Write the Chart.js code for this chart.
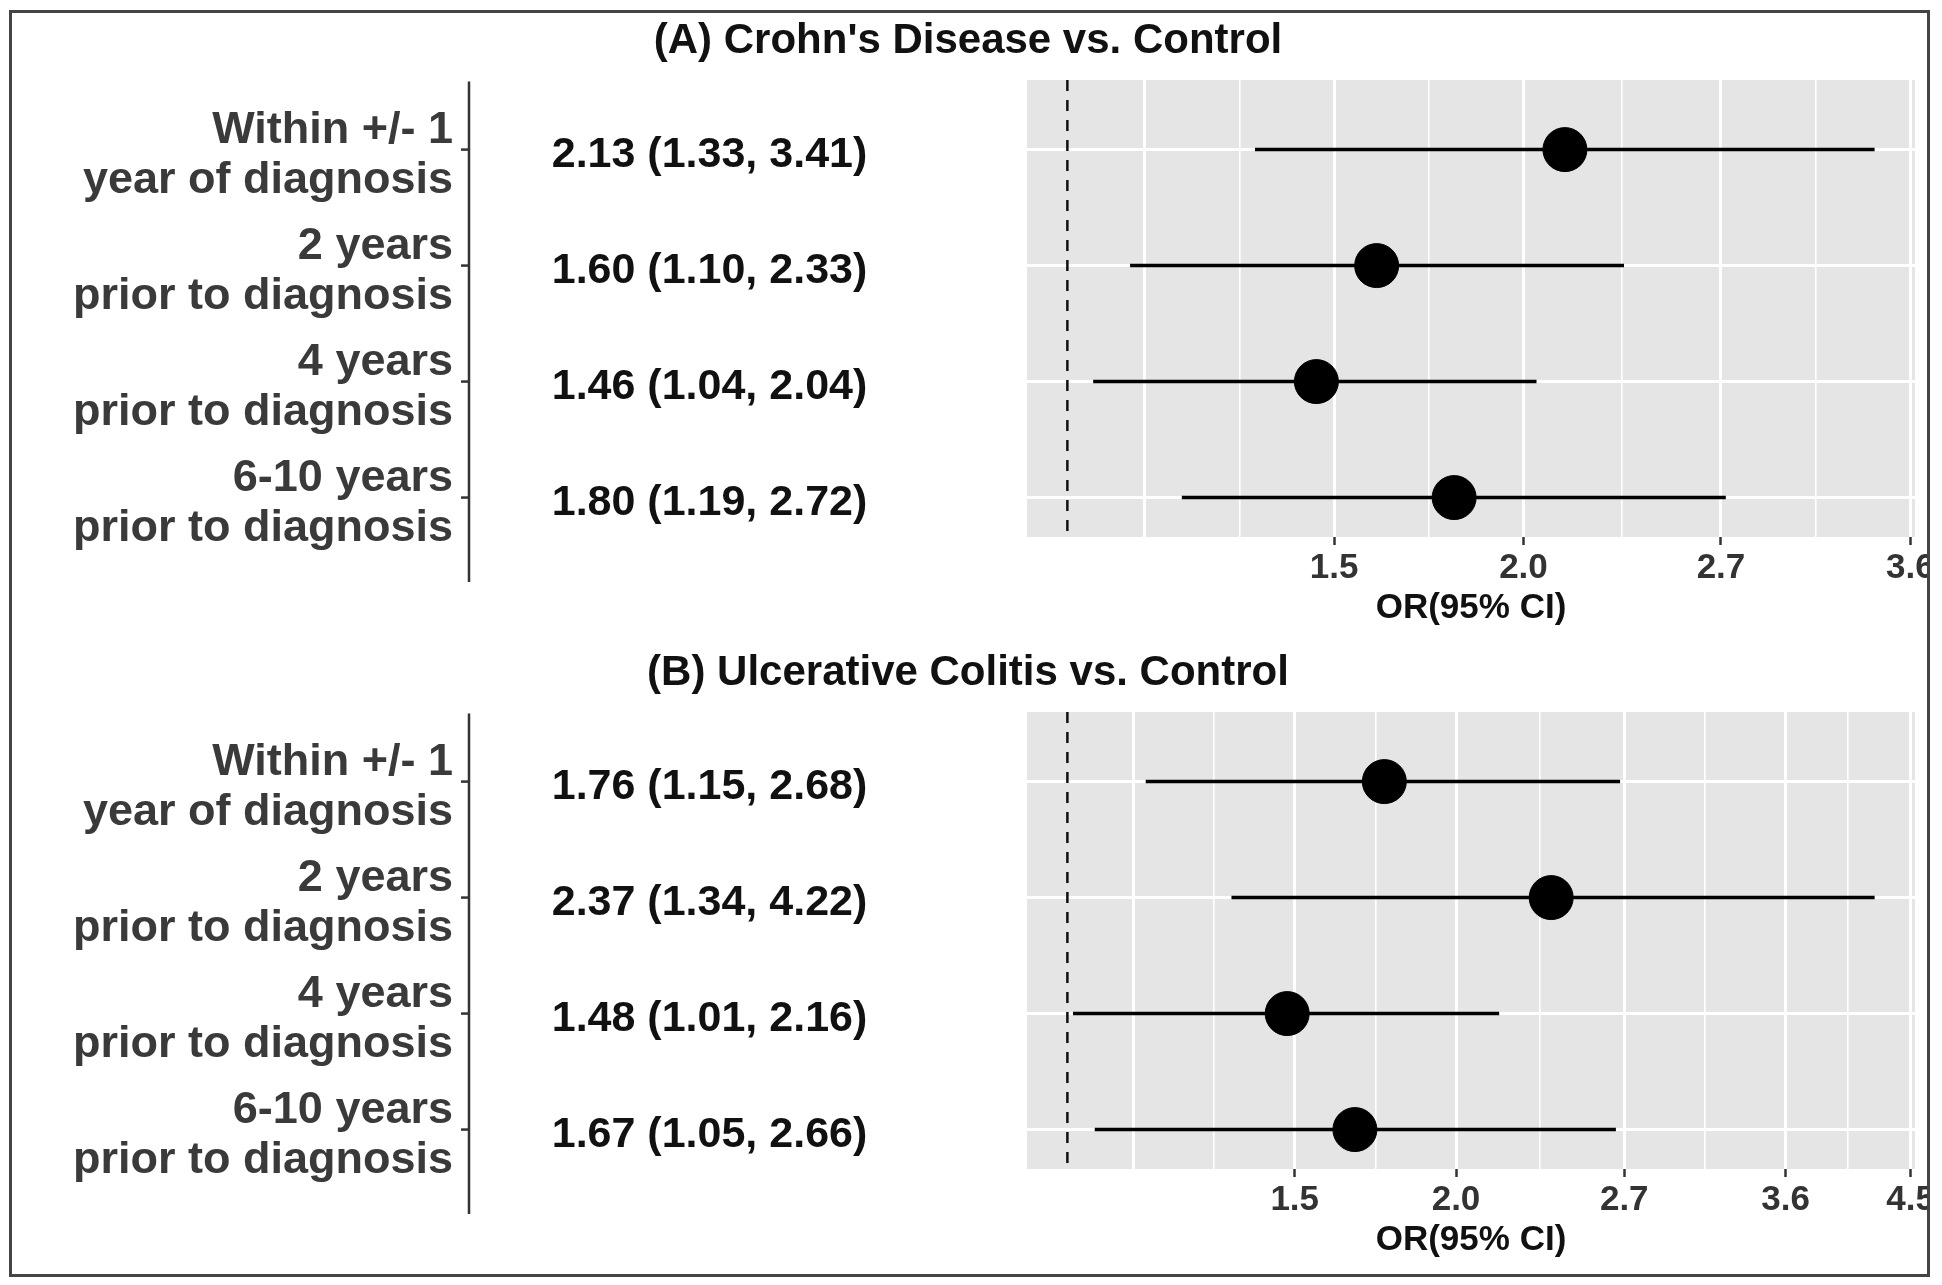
<!DOCTYPE html>
<html lang="en">
<head>
<meta charset="utf-8">
<title>OR (95% CI) vs. Control</title>
<script src="https://cdn.jsdelivr.net/npm/chart.js@4.4.1/dist/chart.umd.min.js"></script>
<style>
    html, body { margin: 0; padding: 0; background: #fff; }
    #page { position: relative; width: 1942px; height: 1285px; overflow: hidden; }
    #clip { position: absolute; left: 0; top: 0; width: 1928px; height: 1276px; overflow: hidden; }
    .panel { position: absolute; left: 10px; width: 1950px; height: 632px; }
    #panelA { top: 10px; }
    #panelB { top: 642px; }
    #frame { position: absolute; left: 9px; top: 10px; width: 1921px; height: 1267px; box-sizing: border-box; border: 3px solid #444; pointer-events: none; }
</style>
</head>
<body>
<div id="page">
    <div id="clip">
        <canvas id="panelA" class="panel" width="1950" height="632"></canvas>
        <canvas id="panelB" class="panel" width="1950" height="632"></canvas>
    </div>
    <div id="frame"></div>
</div>
<script>
// --- DATA ---
const rowLabels = [
    ['Within +/- 1', 'year of diagnosis'],
    ['2 years', 'prior to diagnosis'],
    ['4 years', 'prior to diagnosis'],
    ['6-10 years', 'prior to diagnosis']
];
const rowPos = [1, 2, 3, 4];

// (A) Crohn's disease
const cdOdds = [2.13, 1.60, 1.46, 1.80];
const cdLower = [1.33, 1.10, 1.04, 1.19];
const cdUpper = [3.41, 2.33, 2.04, 2.72];

// (B) ulcerative colitis
const ucOdds = [1.76, 2.37, 1.48, 1.67];
const ucLower = [1.15, 1.34, 1.01, 1.05];
const ucUpper = [2.68, 4.22, 2.16, 2.66];

// x axis breaks (log scale), the first break has no label
const cdTickValues = [1.125, 1.5, 2.0, 2.7, 3.6];
const cdTickLabels = ['', '1.5', '2.0', '2.7', '3.6'];
const cdMinorTicks = [1.299, 1.732, 2.324, 3.118];
const ucTickValues = [1.125, 1.5, 2.0, 2.7, 3.6, 4.5];
const ucTickLabels = ['', '1.5', '2.0', '2.7', '3.6', '4.5'];
const ucMinorTicks = [1.299, 1.732, 2.324, 3.118, 4.025];

const cdRange = [0.9405, 3.626];
const ucRange = [0.9305, 4.535];
const rowRange = [0.4, 4.34];
const nullEffect = 1;

const FONT = '"Liberation Sans", Arial, Helvetica, sans-serif';

// --- PLUGINS ---

// gray panel behind the grid (ggplot look)
const panelBackground = {
    id: 'panelBackground',
    beforeDraw(chart) {
        const { ctx, chartArea: a } = chart;
        ctx.save();
        ctx.fillStyle = '#E5E5E5';
        ctx.fillRect(a.left, a.top, a.width, a.height);
        ctx.restore();
    }
};

/**
 * Builds one forest plot panel.
 * The left table (axis line + estimate column) is drawn from the y scale.
 */
function buildPanel(canvasId, title, odds, lower, upper, tickValues, tickLabels, minorTicks, range) {
    const xTicks = tickValues.map((v, i) => ({ value: v, text: tickLabels[i], minor: false }))
        .concat(minorTicks.map(v => ({ value: v, text: '', minor: true })))
        .sort((a, b) => a.value - b.value);

    const estimates = odds.map((o, i) => `${o.toFixed(2)} (${lower[i].toFixed(2)}, ${upper[i].toFixed(2)})`);

    const datasets = [{
        data: odds.map((o, i) => ({ x: o, y: rowPos[i] })),
        pointRadius: 22,
        pointBackgroundColor: '#000',
        pointBorderColor: '#000',
        pointBorderWidth: 1
    }];
    lower.forEach((lo, i) => {
        datasets.push({
            data: [{ x: lo, y: rowPos[i] }, { x: upper[i], y: rowPos[i] }],
            showLine: true,
            borderColor: '#000',
            borderWidth: 3.5,
            pointRadius: 0
        });
    });
    datasets.push({
        data: [{ x: nullEffect, y: rowRange[0] }, { x: nullEffect, y: rowRange[1] }],
        showLine: true,
        borderColor: '#111',
        borderWidth: 2.5,
        borderDash: [11, 9],
        pointRadius: 0
    });

    const tablePart = {
        id: 'tablePart',
        afterDraw(chart) {
            const { ctx, chartArea: a, scales: { y } } = chart;
            ctx.save();
            ctx.strokeStyle = '#333';
            ctx.lineWidth = 2.5;
            ctx.beginPath();
            ctx.moveTo(459, a.top + 1.5);
            ctx.lineTo(459, a.bottom + 45);
            ctx.stroke();
            ctx.font = `bold 43px ${FONT}`;
            ctx.fillStyle = '#111';
            ctx.textAlign = 'center';
            ctx.textBaseline = 'middle';
            rowPos.forEach((r, i) => {
                const py = y.getPixelForValue(r);
                ctx.beginPath();
                ctx.moveTo(451, py);
                ctx.lineTo(459, py);
                ctx.stroke();
                ctx.fillText(estimates[i], 699.5, py + 6);
            });
            ctx.restore();
        }
    };

    return new Chart(document.getElementById(canvasId), {
        type: 'scatter',
        data: { datasets },
        plugins: [panelBackground, tablePart],
        options: {
            responsive: false,
            animation: false,
            events: [],
            layout: { padding: { left: 11, right: 45, top: 0, bottom: 0 } },
            plugins: {
                legend: { display: false },
                tooltip: { enabled: false },
                title: {
                    display: true,
                    text: title,
                    color: '#111',
                    font: { family: FONT, size: 42, weight: 'bold', lineHeight: 1.2 },
                    padding: { top: 6, bottom: 13.6 }
                }
            },
            scales: {
                x: {
                    type: 'logarithmic',
                    min: range[0],
                    max: range[1],
                    bounds: 'data',
                    afterBuildTicks: axis => { axis.ticks = xTicks.map(t => ({ ...t })); },
                    afterFit: axis => {
                        axis.height = 105;
                        axis.paddingLeft = 0;
                        axis.paddingRight = 0;
                    },
                    border: { display: false },
                    grid: {
                        color: '#fff',
                        lineWidth: c => (c.tick && c.tick.minor ? 1.6 : 3),
                        drawTicks: true,
                        tickLength: 8,
                        tickWidth: 2.5,
                        tickColor: c => (c.tick && c.tick.text ? '#333' : 'rgba(0,0,0,0)')
                    },
                    ticks: {
                        autoSkip: false,
                        maxRotation: 0,
                        minRotation: 0,
                        padding: 2,
                        color: '#333',
                        font: { family: FONT, size: 35, weight: 'bold', lineHeight: 1.2 },
                        callback: (value, index) => xTicks[index].text
                    },
                    title: {
                        display: true,
                        text: 'OR(95% CI)',
                        color: '#111',
                        font: { family: FONT, size: 35, weight: 'bold', lineHeight: 1.2 },
                        padding: { top: 0, bottom: 13 }
                    }
                },
                y: {
                    type: 'linear',
                    position: 'left',
                    reverse: true,
                    min: rowRange[0],
                    max: rowRange[1],
                    bounds: 'data',
                    afterBuildTicks: axis => { axis.ticks = rowPos.map(v => ({ value: v })); },
                    afterFit: axis => {
                        // the wide label padding must not push the plot down
                        axis.width = 1006;
                        axis.paddingTop = 0;
                        axis.paddingBottom = 0;
                    },
                    border: { display: false },
                    grid: { color: '#fff', lineWidth: 3, drawTicks: false },
                    ticks: {
                        autoSkip: false,
                        padding: 574,
                        labelOffset: 6,
                        color: '#3a3a3a',
                        font: { family: FONT, size: 45, weight: 'bold', lineHeight: 1.13 },
                        callback: value => rowLabels[rowPos.indexOf(value)]
                    }
                }
            }
        }
    });
}

buildPanel('panelA', "(A) Crohn's Disease vs. Control", cdOdds, cdLower, cdUpper,
    cdTickValues, cdTickLabels, cdMinorTicks, cdRange);
buildPanel('panelB', '(B) Ulcerative Colitis vs. Control', ucOdds, ucLower, ucUpper,
    ucTickValues, ucTickLabels, ucMinorTicks, ucRange);
</script>
</body>
</html>
